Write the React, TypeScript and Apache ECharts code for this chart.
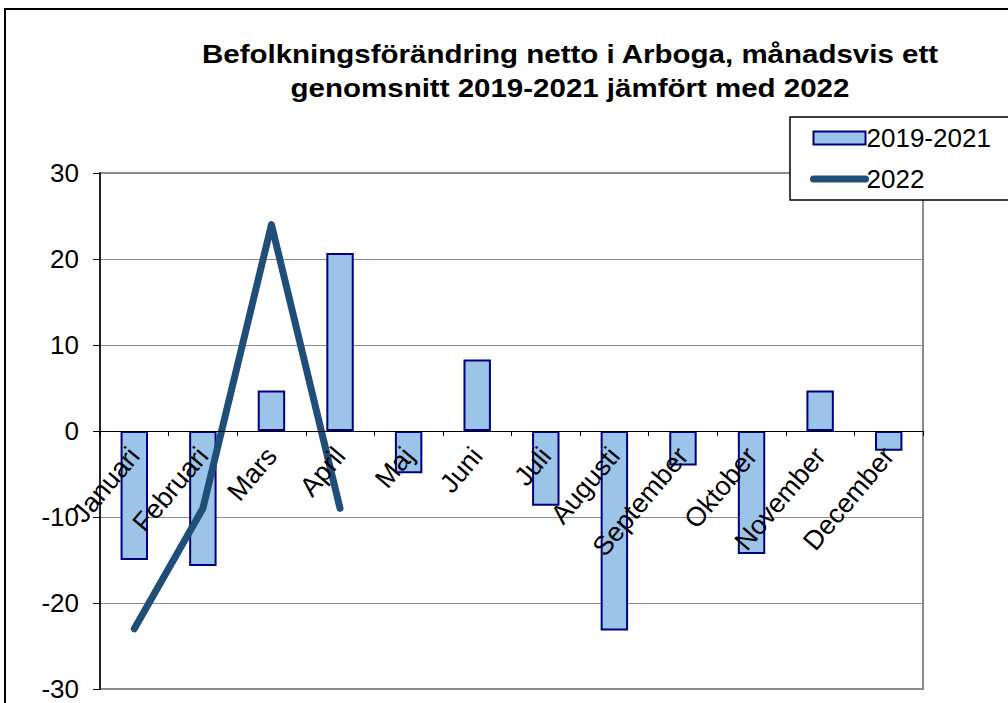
import React, { useEffect, useRef } from "react";
import * as echarts from "echarts";

const months = [
  "Januari", "Februari", "Mars", "April", "Maj", "Juni",
  "Juli", "Augusti", "September", "Oktober", "November", "December",
];
const avg2019to2021 = [-15, -15.7, 4.7, 20.7, -4.9, 8.3, -8.7, -23.2, -4, -14.3, 4.7, -2.3];
const values2022: (number | null)[] = [-23, -9, 24, -9, null, null, null, null, null, null, null, null];
const yMin = -30;
const yMax = 30;
const yInterval = 10;
const titleLines = [
  "Befolkningsförändring netto i Arboga, månadsvis ett",
  "genomsnitt 2019-2021 jämfört med 2022",
];
const seriesNames = ["2019-2021", "2022"];

const FONT = "'Liberation Sans', Arial, Helvetica, sans-serif";
const BAR_FILL = "#9cc3e8";
const BAR_BORDER = "#000080";
const LINE_COLOR = "#1f4e79";

const GRID_TOP = 173;
const GRID_BOTTOM = 14;
const CHART_H = 703;

export default function App() {
  const ref = useRef<HTMLDivElement>(null);
  useEffect(() => {
    if (!ref.current) return;
    const chart = echarts.init(ref.current, undefined, { renderer: "svg" });
    const plotH = CHART_H - GRID_TOP - GRID_BOTTOM;
    // place the category axis at value 0
    const zeroOffset = -plotH * ((0 - yMin) / (yMax - yMin));
    chart.setOption({
      animation: false,
      backgroundColor: "#ffffff",
      textStyle: { fontFamily: FONT },
      grid: {
        left: 100,
        right: 85,
        top: GRID_TOP,
        bottom: GRID_BOTTOM,
        show: true,
        borderColor: "#8c8c8c",
        borderWidth: 2,
        backgroundColor: "transparent",
        containLabel: false,
        outerBoundsMode: "none",
      },
      legend: {
        orient: "vertical",
        left: 790,
        top: 117,
        padding: [8, 40, 8, 20],
        itemWidth: 52,
        itemHeight: 13,
        itemGap: 15,
        backgroundColor: "#ffffff",
        borderColor: "#000000",
        borderWidth: 1.5,
        borderRadius: 0,
        textStyle: { fontSize: 26, color: "#000", fontFamily: FONT, padding: [0, 0, 0, -4] },
        lineStyle: { width: 7, cap: "round" },
        data: [
          { name: seriesNames[0], icon: "rect" },
          { name: seriesNames[1], itemStyle: { color: "transparent", opacity: 0, borderWidth: 0 } },
        ],
        z: 10,
      },
      xAxis: {
        type: "category",
        data: months,
        boundaryGap: true,
        position: "bottom",
        offset: zeroOffset,
        axisLine: { onZero: false, lineStyle: { color: "#000", width: 1 } },
        axisTick: { show: true, length: 5, lineStyle: { color: "#000" } },
        axisLabel: {
          rotate: 50,
          margin: 20,
          fontSize: 27,
          color: "#000",
          fontFamily: FONT,
          interval: 0,
        },
        splitLine: { show: false },
        z: 5,
      },
      yAxis: {
        type: "value",
        min: yMin,
        max: yMax,
        interval: yInterval,
        axisLine: { show: true, lineStyle: { color: "#000", width: 1.5 } },
        axisTick: { show: true, length: 7, lineStyle: { color: "#000" } },
        axisLabel: { fontSize: 26, color: "#000", margin: 21, fontFamily: FONT },
        splitLine: { show: true, lineStyle: { color: "#8c8c8c", width: 1 } },
      },
      series: [
        {
          name: seriesNames[0],
          type: "bar",
          data: avg2019to2021,
          barWidth: "40%",
          itemStyle: { color: BAR_FILL, borderColor: BAR_BORDER, borderWidth: 2 },
          z: 2,
        },
        {
          name: seriesNames[1],
          type: "line",
          data: values2022,
          showSymbol: false,
          symbol: "none",
          connectNulls: false,
          lineStyle: { color: LINE_COLOR, width: 7, cap: "round", join: "round" },
          itemStyle: { color: LINE_COLOR },
          z: 3,
        },
      ],
      graphic: [
        {
          type: "rect",
          shape: { x: 5, y: 9, width: 1200, height: 900 },
          style: { fill: "none", stroke: "#000", lineWidth: 2 },
          silent: true,
          z: 100,
        },
        {
          type: "text",
          x: 570,
          y: 71,
          scaleX: 1.18,
          style: {
            text: titleLines.join("\n"),
            fontSize: 25,
            fontWeight: "bold",
            fontFamily: FONT,
            fill: "#000",
            align: "center",
            verticalAlign: "middle",
            lineHeight: 34,
          },
          z: 100,
        },
      ],
    });
    return () => chart.dispose();
  }, []);
  return (
    <div
      ref={ref}
      style={{ position: "absolute", left: 0, top: 0, width: 1008, height: 703 }}
    />
  );
}
